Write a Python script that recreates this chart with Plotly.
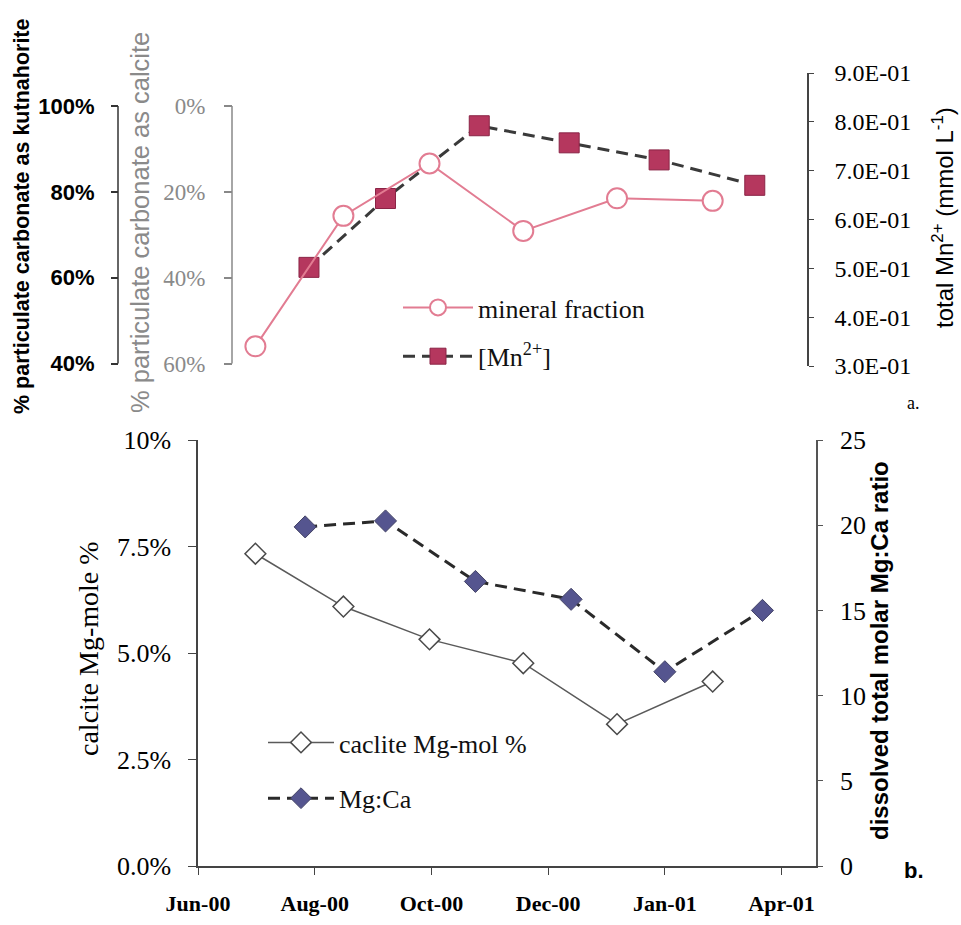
import plotly.graph_objects as go

# ---- data -------------------------------------------------------------
# solid-phase samples (top: calcite share of particulate carbonate,
# bottom: Mg content of the calcite)
mineral_dates = ["2000-07-01", "2000-08-16", "2000-09-30",
                 "2000-11-18", "2001-01-06", "2001-02-25"]
calcite_share_pct = [56.0, 25.6, 13.4, 29.1, 21.5, 22.1]
calcite_mg_mol_pct = [7.33, 6.09, 5.32, 4.76, 3.33, 4.33]

# dissolved-phase samples
mn_dates = ["2000-07-29", "2000-09-07", "2000-10-26",
            "2000-12-12", "2001-01-28", "2001-03-19"]
mn_total = [0.502, 0.643, 0.792, 0.757, 0.722, 0.670]

mgca_dates = ["2000-07-27", "2000-09-07", "2000-10-24",
              "2000-12-13", "2001-01-31", "2001-03-23"]
mg_ca_ratio = [19.9, 20.25, 16.7, 15.65, 11.4, 15.0]

# axis ticks
date_ticks = ["2000-06-01", "2000-08-01", "2000-10-01",
              "2000-12-01", "2001-01-31", "2001-04-02"]
date_labels = ["Jun-00", "Aug-00", "Oct-00", "Dec-00", "Jan-01", "Apr-01"]
kutna_ticks = [40, 60, 80, 100]
kutna_labels = ["40%", "60%", "80%", "100%"]
calcite_ticks = [0, 20, 40, 60]
calcite_labels = ["0%", "20%", "40%", "60%"]
mn_ticks = [0.3, 0.4, 0.5, 0.6, 0.7, 0.8, 0.9]
mn_labels = ["3.0E-01", "4.0E-01", "5.0E-01", "6.0E-01",
             "7.0E-01", "8.0E-01", "9.0E-01"]
mgmol_ticks = [0, 2.5, 5, 7.5, 10]
mgmol_labels = ["0.0%", "2.5%", "5.0%", "7.5%", "10%"]
ratio_ticks = [0, 5, 10, 15, 20, 25]

# ---- page geometry helpers (pixel -> paper) ----------------------------
W, H = 961, 925
def px(x):
    return x / W
def py(y):
    return 1 - y / H

SERIF = "Liberation Serif"
SANS = "Liberation Sans"
PINK = "#E27C92"
CRIMSON = "#B5375E"
SLATE = "#55558F"

# top panel plot area spans the Mn axis (0.3 .. 0.9); the two percentage
# axes cover a slightly shorter stretch inside it
TOP_Y0, TOP_Y1 = 366, 73          # pixel rows of the Mn axis ends
PCT_Y0, PCT_Y1 = 363.5, 106       # pixel rows of the 40%/60% and 100%/0% ticks
k_per_px = (100 - 40) / (PCT_Y0 - PCT_Y1)
kutna_range = [40 - (TOP_Y0 - PCT_Y0) * k_per_px,
               100 + (PCT_Y1 - TOP_Y1) * k_per_px]
calcite_range = [60 + (TOP_Y0 - PCT_Y0) * k_per_px,
                 0 - (PCT_Y1 - TOP_Y1) * k_per_px]

fig = go.Figure()

# top panel
fig.add_trace(go.Scatter(
    x=mn_dates, y=mn_total, xaxis="x", yaxis="y5", name="[Mn<sup>2+</sup>]",
    mode="lines+markers", legend="legend", legendrank=2, legendgroup="mn",
    line=dict(color="#3a3a3a", width=3, dash="12px,7px"),
    marker=dict(symbol="square", size=20, color=CRIMSON,
                line=dict(color="#8a2446", width=1)),
))
fig.add_trace(go.Scatter(
    x=mineral_dates, y=calcite_share_pct, xaxis="x", yaxis="y4",
    name="mineral fraction", mode="lines+markers", legend="legend",
    legendrank=1, legendgroup="mineral",
    line=dict(color=PINK, width=2),
    marker=dict(symbol="circle", size=20, color="white",
                line=dict(color=PINK, width=2)),
))
# kutnahorite axis carries no marks of its own
fig.add_trace(go.Scatter(x=[], y=[], xaxis="x", yaxis="y3",
                         showlegend=False, hoverinfo="skip"))

# bottom panel
fig.add_trace(go.Scatter(
    x=mineral_dates, y=calcite_mg_mol_pct, xaxis="x", yaxis="y",
    name="caclite Mg-mol %", mode="lines+markers", legend="legend2",
    legendrank=1, legendgroup="mgmol",
    line=dict(color="#5a5a5a", width=1.5),
    marker=dict(symbol="diamond", size=16, color="white",
                line=dict(color="#4a4a4a", width=1.5)),
))
fig.add_trace(go.Scatter(
    x=mgca_dates, y=mg_ca_ratio, xaxis="x", yaxis="y2",
    name="Mg:Ca", mode="lines+markers", legend="legend2", legendrank=2,
    legendgroup="mgca",
    line=dict(color="#2a2a2a", width=3, dash="12px,7px"),
    marker=dict(symbol="diamond", size=17, color=SLATE,
                line=dict(color="#444466", width=1)),
))

axis_common = dict(showgrid=False, zeroline=False, ticks="outside",
                   automargin=False)

top_dom = [py(TOP_Y0), py(TOP_Y1)]
bottom_dom = [py(866), py(440)]

fig.update_layout(
    width=W, height=H, autosize=False,
    margin=dict(l=0, r=0, t=0, b=0, autoexpand=False),
    paper_bgcolor="white", plot_bgcolor="rgba(0,0,0,0)",
    xaxis=dict(
        **axis_common, domain=[px(198), px(816)], anchor="y", type="date",
        range=["2000-06-01", "2001-04-20"],
        tickvals=date_ticks, ticktext=date_labels,
        showline=True, linewidth=1.5,
        ticklen=7, linecolor="#444", tickcolor="#444",
        ticklabelstandoff=10,
        tickfont=dict(family=SERIF, size=22, color="black", weight="bold"),
    ),
    # bottom left: calcite Mg-mole %
    yaxis=dict(
        **axis_common, domain=bottom_dom, anchor="x", range=[0, 10],
        tickvals=mgmol_ticks, ticktext=mgmol_labels,
        showline=True, linewidth=1.5,
        ticklen=8, linecolor="#444", tickcolor="#444",
        ticklabelstandoff=12,
        tickfont=dict(family=SERIF, size=26, color="black"),
    ),
    # bottom right: dissolved Mg:Ca
    yaxis2=dict(
        **axis_common, domain=bottom_dom, anchor="x", overlaying="y",
        side="right", range=[0, 25], tickvals=ratio_ticks,
        showline=True, linewidth=1.5,
        ticklen=5, linecolor="#555", tickcolor="#555",
        ticklabelstandoff=12,
        tickfont=dict(family=SERIF, size=26, color="black"),
    ),
    # top right: total Mn2+ (base axis of the top panel)
    yaxis5=dict(
        **axis_common, domain=top_dom, anchor="free", position=px(808),
        side="right", range=[0.3, 0.9], tickvals=mn_ticks, ticktext=mn_labels,
        showline=True, linewidth=1.5,
        ticklen=5, linecolor="#444", tickcolor="#444",
        ticklabelstandoff=16,
        tickfont=dict(family=SERIF, size=24, color="black"),
    ),
    # top: kutnahorite share
    yaxis3=dict(
        **axis_common, overlaying="y5", anchor="free", position=px(118),
        side="left", range=kutna_range, tickvals=kutna_ticks,
        ticktext=kutna_labels, showline=False,
        ticklen=7, tickcolor="#333", tickwidth=1.5,
        ticklabelstandoff=12,
        tickfont=dict(family=SANS, size=22, color="black", weight="bold"),
    ),
    # top: calcite share (reversed)
    yaxis4=dict(
        **axis_common, overlaying="y5", anchor="free", position=px(232),
        side="left", range=calcite_range, tickvals=calcite_ticks,
        ticktext=calcite_labels, showline=False,
        ticklen=8, tickcolor="#888", tickwidth=1.5,
        ticklabelstandoff=14,
        tickfont=dict(family=SERIF, size=23, color="#8a8a8a"),
    ),
    legend=dict(
        x=px(398), y=py(284), xanchor="left", yanchor="top",
        bgcolor="rgba(0,0,0,0)", itemwidth=70, traceorder="grouped",
        font=dict(family=SERIF, size=26, color="#111"),
        tracegroupgap=12,
    ),
    legend2=dict(
        x=px(263), y=py(719), xanchor="left", yanchor="top",
        bgcolor="rgba(0,0,0,0)", itemwidth=66, traceorder="grouped",
        font=dict(family=SERIF, size=26, color="#111"),
        tracegroupgap=19,
    ),
)

# bracket-style spines of the two percentage axes, spanning their ticks only
fig.add_shape(type="line", xref="paper", yref="y3", x0=px(118), x1=px(118),
              y0=40, y1=100, line=dict(color="#333", width=1.5))
fig.add_shape(type="line", xref="paper", yref="y4", x0=px(232), x1=px(232),
              y0=0, y1=60, line=dict(color="#888", width=1.5))

annotations = [
    dict(text="% particulate carbonate as kutnahorite", x=px(22), y=py(216),
         textangle=-90, font=dict(family=SANS, size=21.5, color="black",
                                  weight="bold")),
    dict(text="% particulate carbonate as calcite", x=px(140), y=py(223),
         textangle=-90, font=dict(family=SANS, size=25.5, color="#8a8a8a")),
    dict(text="total Mn<sup>2+</sup> (mmol L<sup>-1</sup>)", x=px(943),
         y=py(218), textangle=-90,
         font=dict(family=SANS, size=24, color="black")),
    dict(text="a.", x=px(913), y=py(403),
         font=dict(family=SERIF, size=18, color="black")),
    dict(text="calcite Mg-mole %", x=px(88), y=py(649), textangle=-90,
         font=dict(family=SERIF, size=28, color="black")),
    dict(text="dissolved total molar Mg:Ca ratio", x=px(879), y=py(651),
         textangle=-90, font=dict(family=SANS, size=24, color="black",
                                  weight="bold")),
    dict(text="b.", x=px(914), y=py(870),
         font=dict(family=SANS, size=22, color="black", weight="bold")),
]
for a in annotations:
    a.update(xref="paper", yref="paper", showarrow=False,
             xanchor="center", yanchor="middle")
fig.update_layout(annotations=annotations)

fig.write_html("out.html")
